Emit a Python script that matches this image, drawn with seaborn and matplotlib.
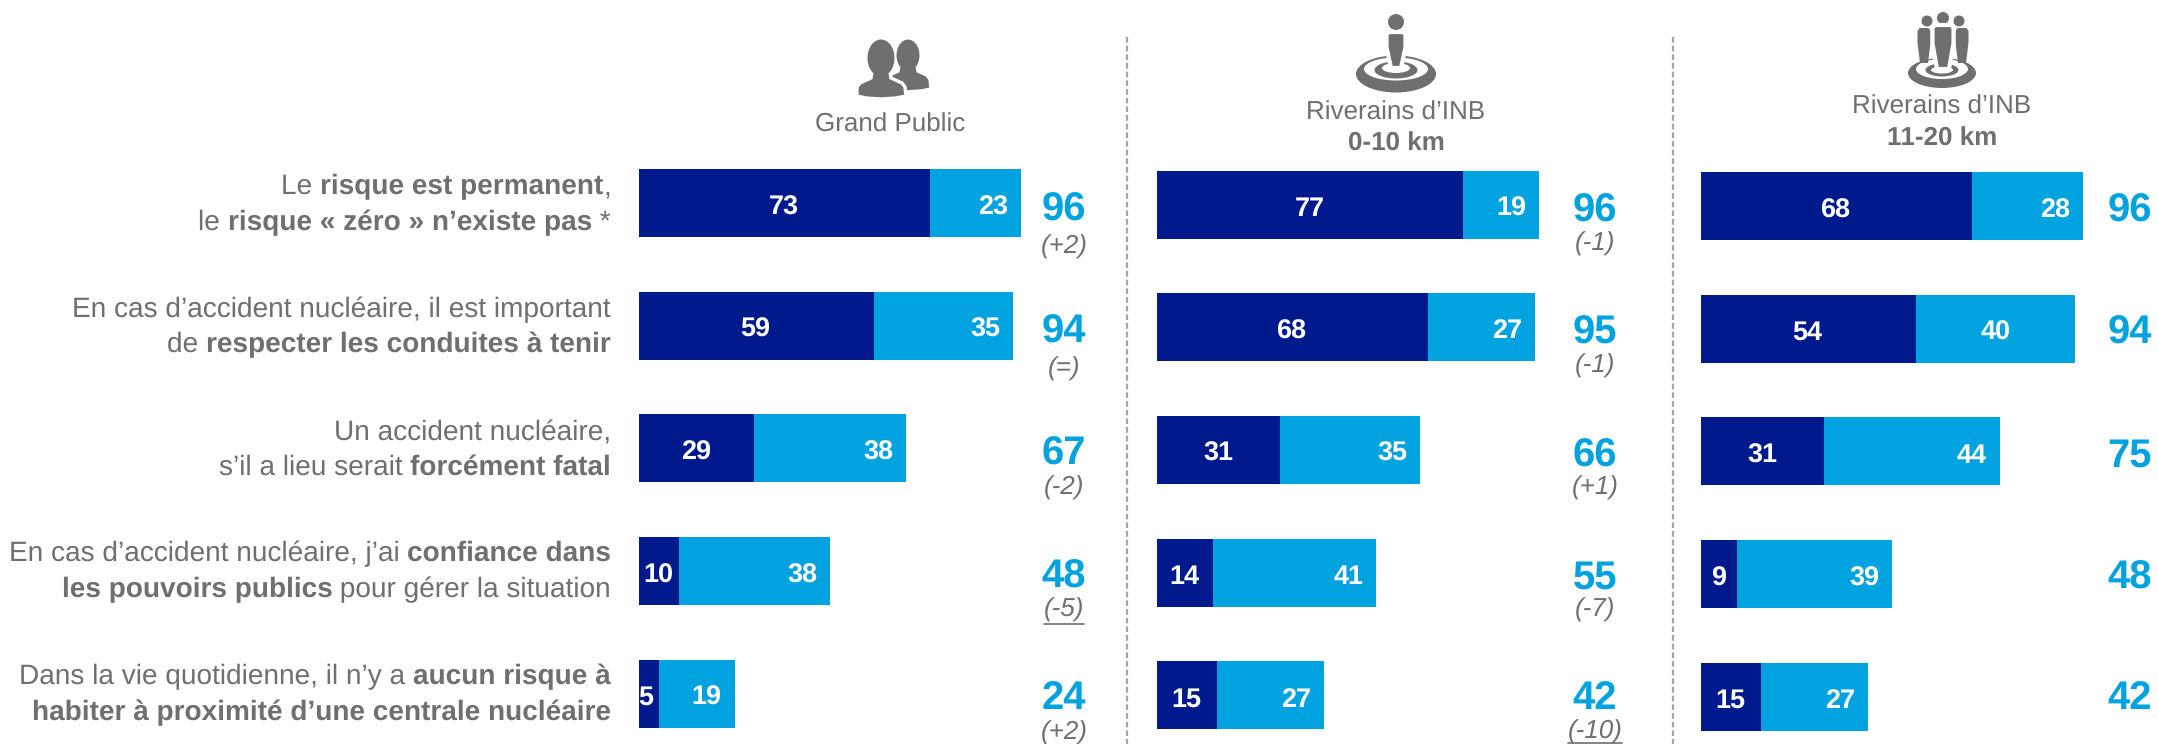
import matplotlib
matplotlib.use("Agg")
import matplotlib.pyplot as plt
import seaborn as sns
import numpy as np
from matplotlib.patches import Ellipse, Polygon, FancyBboxPatch
from matplotlib.lines import Line2D
from matplotlib.transforms import IdentityTransform

sns.set_theme(style="white")
plt.rcParams['font.family'] = ['Liberation Sans', 'DejaVu Sans']
plt.rcParams['text.hinting'] = 'no_hinting'
plt.rcParams['text.hinting_factor'] = 1

# ---------- data ----------
rows = ["r1", "r2", "r3", "r4", "r5"]
row_labels = [
    [[("Le ", 0), ("risque est permanent", 1), (",", 0)],
     [("le ", 0), ("risque « zéro » n’existe pas", 1), (" *", 0)]],
    [[("En cas d’accident nucléaire, il est important", 0)],
     [("de ", 0), ("respecter les conduites à tenir", 1)]],
    [[("Un accident nucléaire,", 0)],
     [("s’il a lieu serait ", 0), ("forcément fatal", 1)]],
    [[("En cas d’accident nucléaire, j’ai ", 0), ("confiance dans", 1)],
     [("les pouvoirs publics", 1), (" pour gérer la situation", 0)]],
    [[("Dans la vie quotidienne, il n’y a ", 0), ("aucun risque à", 1)],
     [("habiter à proximité d’une centrale nucléaire", 1)]],
]
gp_dark = [73, 59, 29, 10, 5]
gp_light = [23, 35, 38, 38, 19]
gp_total = [96, 94, 67, 48, 24]
gp_delta = ["(+2)", "(=)", "(-2)", "(-5)", "(+2)"]
r10_dark = [77, 68, 31, 14, 15]
r10_light = [19, 27, 35, 41, 27]
r10_total = [96, 95, 66, 55, 42]
r10_delta = ["(-1)", "(-1)", "(+1)", "(-7)", "(-10)"]
r20_dark = [68, 54, 31, 9, 15]
r20_light = [28, 40, 44, 39, 27]
r20_total = [96, 94, 75, 48, 42]
underlined = {"(-5)", "(-10)"}

DARK = "#001A8D"
LIGHT = "#00A3E0"
GREY = "#6F6F6F"
W, H = 2158, 744
PX_PER_UNIT = 3.98
ROW_STEP = 122.7
BAR_PX = 68

fig = plt.figure(figsize=(W / 100, H / 100), dpi=100, facecolor="white")


def fx(x):
    return x / W


def fy(y):
    return 1 - y / H


def panel(left_px, right_px, first_centre, dark, light, total, delta, total_x, total_ys, delta_ys):
    ax = fig.add_axes([fx(left_px), 0, (right_px - left_px) / W, 1])
    ax.patch.set_alpha(0)
    stacked = [d + l for d, l in zip(dark, light)]
    sns.barplot(x=stacked, y=rows, color=LIGHT, saturation=1, width=BAR_PX / ROW_STEP,
                ax=ax, orient="h", order=rows, linewidth=0)
    sns.barplot(x=dark, y=rows, color=DARK, saturation=1, width=BAR_PX / ROW_STEP,
                ax=ax, orient="h", order=rows, linewidth=0)
    ax.set_xlim(0, (right_px - left_px) / PX_PER_UNIT)
    ax.set_ylim((H - first_centre) / ROW_STEP, -first_centre / ROW_STEP)
    ax.axis("off")
    off = 0.035
    for i, (d, l, s) in enumerate(zip(dark, light, stacked)):
        dx = d / 2 - (0.5 if d < 6 else 0)
        ax.text(dx - 0.2, i + off, str(d), color="white", fontsize=19.5, fontweight="bold",
                ha="center", va="center")
        if l == 40:
            ax.text(d + l / 2, i + off, str(l), color="white", fontsize=19.5,
                    fontweight="bold", ha="center", va="center")
        else:
            ax.text(s - 3.2, i + off, str(l), color="white", fontsize=19.5,
                    fontweight="bold", ha="right", va="center")
    for i, t in enumerate(total):
        fig.text(fx(total_x), fy(total_ys[i]), str(t), color=LIGHT, fontsize=28.5,
                 fontweight="bold", ha="center", va="center")
    if delta:
        for i, t in enumerate(delta):
            fig.text(fx(total_x), fy(delta_ys[i]), t, color=GREY, fontsize=18.5,
                     fontstyle="italic", ha="center", va="center")
            if t in underlined:
                hw = {4: 20, 5: 27}[len(t)]
                uy = min(delta_ys[i] + 14, 742.5)
                fig.add_artist(Line2D([fx(total_x - hw), fx(total_x + hw)],
                                      [fy(uy)] * 2, color=GREY, lw=1.2))
    return ax


panel(639, 1100, 203, gp_dark, gp_light, gp_total, gp_delta, 1064,
      [210, 332, 454, 577, 699], [247, 369, 488, 610, 733])
panel(1157, 1600, 204.5, r10_dark, r10_light, r10_total, r10_delta, 1595,
      [211, 333, 456, 578, 699], [244, 366, 488, 610, 732])
panel(1701, 2100, 206, r20_dark, r20_light, r20_total, None, 2130,
      [211, 333, 456, 578, 699], None)

# ---------- left labels ----------
fig.canvas.draw()
rend = fig.canvas.get_renderer()
LABEL_FS = 20.1
RIGHT = 611


def seg_width(s, weight):
    a = fig.text(0, 0, "x", fontsize=LABEL_FS, fontweight=weight)
    b = fig.text(0, 0, "x" + s.replace(" ", "\u00a0") + "x", fontsize=LABEL_FS, fontweight=weight)
    w = b.get_window_extent(rend).width - 2 * a.get_window_extent(rend).width
    a.remove(); b.remove()
    return w


def rich_right(segments, right, y):
    x = right
    for s, bold in reversed(segments):
        weight = "bold" if bold else "normal"
        w = seg_width(s, weight)
        fig.text(fx(x - w), fy(y), s.replace(" ", "\u00a0"), color=GREY, fontsize=LABEL_FS,
                 fontweight=weight, ha="left", va="baseline")
        x -= w


baselines = [[194, 230], [317, 352], [440, 475], [561, 597], [684, 720]]
for lines, ys in zip(row_labels, baselines):
    for segs, y in zip(lines, ys):
        rich_right(segs, RIGHT, y)

# ---------- headers ----------
HFS = 18.55
fig.text(fx(890), fy(125), "Grand Public", color=GREY, fontsize=HFS, ha="center", va="center")
fig.text(fx(1396), fy(113), "Riverains d’INB", color=GREY, fontsize=HFS, ha="center", va="center")
fig.text(fx(1396), fy(144), "0-10 km", color=GREY, fontsize=HFS, fontweight="bold", ha="center", va="center")
fig.text(fx(1942), fy(107), "Riverains d’INB", color=GREY, fontsize=HFS, ha="center", va="center")
fig.text(fx(1942), fy(139), "11-20 km", color=GREY, fontsize=HFS, fontweight="bold", ha="center", va="center")

# ---------- separators ----------
for x in (1127, 1673):
    fig.add_artist(Line2D([fx(x), fx(x)], [fy(37), 0], color="#A6A6A6", lw=1.6,
                          linestyle=(0, (2.6, 1.3))))

# ---------- icons (drawn in pixel space) ----------
ID = IdentityTransform()


def add(p):
    p.set_transform(ID)
    fig.add_artist(p)


def ell(cx, cy, w, h, fc=GREY, z=3, ec="none", lw=0):
    add(Ellipse((cx, H - cy), w, h, fc=fc, ec=ec, lw=lw, zorder=z))


def poly(points, fc=GREY, ec="none", lw=0, z=3):
    add(Polygon([(x, H - y) for x, y in points], closed=True, fc=fc, ec=ec, lw=lw, zorder=z))


def bust(cx, top, s, z=3, halo=False):
    ec, lw = ("white", 2.4) if halo else ("none", 0)
    pts = [(cx - 9 * s, top + 32 * s), (cx + 9 * s, top + 32 * s), (cx + 10 * s, top + 38 * s),
           (cx + 21 * s, top + 43 * s), (cx + 24 * s, top + 47 * s), (cx + 25 * s, top + 56 * s),
           (cx + 15 * s, top + 58 * s), (cx, top + 59 * s), (cx - 15 * s, top + 58 * s),
           (cx - 24 * s, top + 56 * s), (cx - 24 * s, top + 47 * s), (cx - 21 * s, top + 43 * s),
           (cx - 10 * s, top + 38 * s)]
    poly(pts, ec=ec, lw=lw, z=z)
    ell(cx, top + 18 * s, 27 * s, 37 * s, z=z + 0.1)


bust(908, 40, 0.85, z=3)
bust(881, 40, 1.0, z=4, halo=True)


def rings(cx, cy, w_outer, h_outer, w2, h2, dy2, w3, h3, dy3, w4, h4, dy4):
    ell(cx, cy, w_outer, h_outer, z=3)
    ell(cx, cy + dy2, w2, h2, fc="white", z=3.1)
    ell(cx, cy + dy3, w3, h3, z=3.2)
    ell(cx, cy + dy4, w4, h4, fc="white", z=3.3)


def person(cx, head_cx, head_cy, head_d, body_top, body_w, body_bot, bot_w, z=4, halo=False):
    ec, lw = ("white", 3) if halo else ("none", 0)
    ell(head_cx, head_cy, head_d, head_d, z=z)
    shoulder = body_top + (body_bot - body_top) * 0.42
    poly([(cx - body_w / 2 + 2, body_top), (cx + body_w / 2 - 2, body_top),
          (cx + body_w / 2, body_top + 3), (cx + body_w / 2, shoulder),
          (cx + bot_w / 2, body_bot), (cx - bot_w / 2, body_bot),
          (cx - body_w / 2, shoulder), (cx - body_w / 2, body_top + 3)],
         ec=ec, lw=lw, z=z)


rings(1396, 74, 80, 37, 64, 23, -5, 43, 17, -4, 28, 10, -6)
person(1396, 1396, 22, 16, 32, 19, 68, 10, z=4, halo=True)

rings(1942, 73, 68, 30, 52, 20, -4, 33, 13, -3, 22, 7, -3)
person(1924, 1927, 21, 11, 28, 13, 63, 8, z=4)
person(1962, 1959, 21, 11, 28, 13, 63, 8, z=4)
person(1943, 1943, 18, 12, 25, 21, 69, 12, z=5, halo=True)

fig.savefig("out.png", dpi=100, facecolor="white")
